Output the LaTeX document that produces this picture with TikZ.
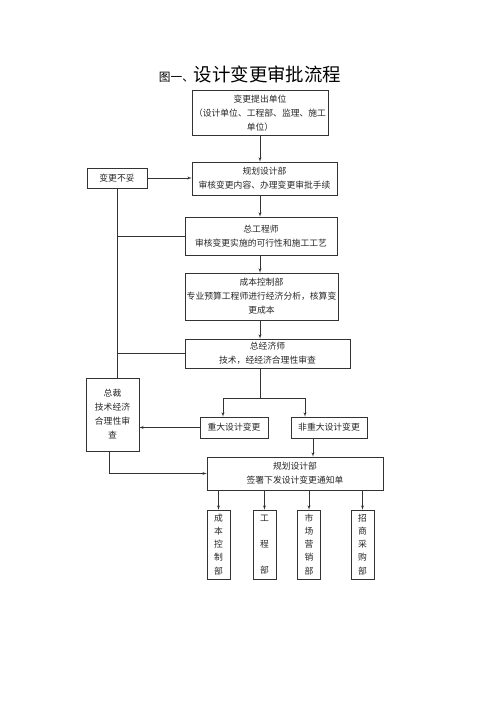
\documentclass[tikz,border=0pt]{standalone}
\usepackage{fontspec}
\setmainfont{Noto Sans CJK SC}
\usetikzlibrary{shapes,arrows,positioning}
\tikzstyle{block} = [rectangle, draw=black!80, inner sep=1pt, align=center, text=black!85, font=\fontsize{8.8}{14}\selectfont]
\tikzstyle{column} = [block, minimum width=23pt, minimum height=69pt, font=\fontsize{8.8}{13.1}\selectfont]
\tikzstyle{line} = [draw=black!80, -latex']

\begin{document}
\begin{tikzpicture}[x=1pt, y=-1pt, line width=0.5pt]
    \useasboundingbox (0,0) rectangle (500,708);
    % Place nodes
    \node (title) at (250,74.5) {{\fontsize{11.7}{12}\selectfont 图一、}{\fontsize{18.4}{20}\selectfont 设计变更审批流程}};
    \node [block, minimum width=136pt, minimum height=45pt] (unit) at (260,113) {变更提出单位\\（设计单位、工程部、监理、施工\\单位）};
    \node [block, minimum width=145pt, minimum height=33pt] (plan) at (264.5,178.5) {规划设计部\\审核变更内容、办理变更审批手续};
    \node [block, minimum width=60pt, minimum height=20pt] (reject) at (117,178) {变更不妥};
    \node [block, minimum width=152pt, minimum height=38pt] (chief) at (261,236) {总工程师\\审核变更实施的可行性和施工工艺};
    \node [block, minimum width=153pt, minimum height=47pt] (cost) at (261.5,296.5) {成本控制部\\专业预算工程师进行经济分析，核算变\\更成本};
    \node [block, minimum width=165pt, minimum height=29pt] (econ) at (267.5,353.5) {总经济师\\技术，经经济合理性审查};
    \node [block, minimum width=53pt, minimum height=73pt] (pres) at (112.5,414.5) {总裁\\技术经济\\合理性审\\查};
    \node [block, minimum width=68pt, minimum height=21pt] (major) at (234,427.5) {重大设计变更};
    \node [block, minimum width=76pt, minimum height=21pt] (minor) at (329,427.5) {非重大设计变更};
    \node [block, minimum width=176pt, minimum height=33pt] (notice) at (295,473.5) {规划设计部\\签署下发设计变更通知单};
    \node [column] (costdept) at (218.5,544.5) {成\\本\\控\\制\\部};
    \node [column] (engdept) at (264.5,544.5) {工\\~\\程\\~\\部};
    \node [column] (mktdept) at (309,544.5) {市\\场\\营\\销\\部};
    \node [column] (buydept) at (362.5,544.5) {招\\商\\采\\购\\部};
    \coordinate (split) at (260,398);

    % Draw edges
    \path [line] (unit.south -| 260,0) -- (plan.north -| 260,0);
    \path [line] (plan.south -| 260,0) -- (chief.north -| 260,0);
    \path [line] (chief.south -| 260,0) -- (cost.north -| 260,0);
    \path [line] (cost.south -| 260,0) -- (econ.north -| 260,0);
    \path [line] (reject.east) -- (reject.east -| plan.west);
    \draw [black!80] (reject.south) -- (reject.south |- pres.north);
    \draw [black!80] (chief.west) -- (chief.west -| reject.south);
    \draw [black!80] (econ.west) -- (econ.west -| reject.south);
    \draw [black!80] (econ.south -| split) -- (split);
    \path [line] (split) -| ([xshift=-11pt]major.north);
    \path [line] (split) -| ([xshift=-24pt]minor.north);
    \path [line] (major.west) -- (major.west -| pres.east);
    \path [line] ([xshift=-16pt]minor.south) -- ([xshift=-16pt]minor.south |- notice.north);
    \path [line] ([xshift=-3.5pt]pres.south) |- (notice.west);
    \foreach \dept in {costdept, engdept, mktdept, buydept}
        \path [line] (notice.south -| \dept.north) -- (\dept.north);
\end{tikzpicture}
\end{document}
